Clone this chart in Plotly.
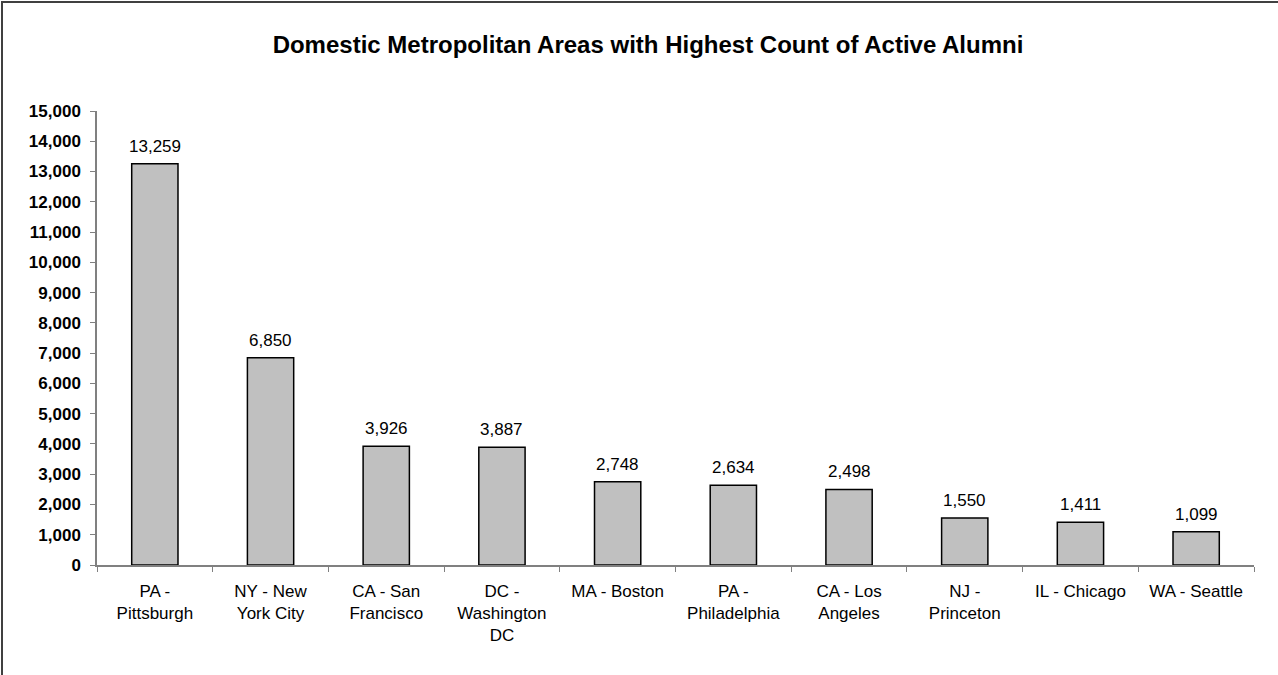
import plotly.graph_objects as go

categories = ["PA -<br>Pittsburgh", "NY - New<br>York City", "CA - San<br>Francisco",
              "DC -<br>Washington<br>DC", "MA - Boston", "PA -<br>Philadelphia",
              "CA - Los<br>Angeles", "NJ -<br>Princeton", "IL - Chicago", "WA - Seattle"]
values = [13259, 6850, 3926, 3887, 2748, 2634, 2498, 1550, 1411, 1099]
title_text = "Domestic Metropolitan Areas with Highest Count of Active Alumni"

FONT = "Liberation Sans, Arial, sans-serif"

fig = go.Figure(go.Bar(
    x=categories, y=values,
    marker=dict(color="#C0C0C0", line=dict(color="black", width=1.5)),
    width=0.4,
    cliponaxis=False,
))

for c, v in zip(categories, values):
    fig.add_annotation(x=c, y=v, text=f"{v:,}", showarrow=False,
                       xanchor="center", yanchor="bottom", yshift=6,
                       font=dict(family=FONT, size=17, color="black"))

fig.update_layout(
    width=1278, height=675,
    paper_bgcolor="white", plot_bgcolor="white",
    margin=dict(l=97, r=24, t=111, b=110),
    title=dict(text=f"<b>{title_text}</b>", x=648/1278, xanchor="center",
               y=1 - 45/675, yanchor="middle", xref="container", yref="container",
               font=dict(family=FONT, size=24, color="black")),
    showlegend=False,
    font=dict(family=FONT, color="black"),
    bargap=0.6,
)
fig.update_yaxes(range=[0, 15000], dtick=1000, tickformat=",d",
                 showgrid=False, zeroline=False, showline=True, linecolor="#808080",
                 linewidth=1.5, ticks="outside", ticklen=5, tickcolor="#808080",
                 tickfont=dict(family=FONT, size=17, color="black", weight="bold"),
                 ticklabelstandoff=6)
fig.update_xaxes(showgrid=False, showline=True, linecolor="#808080", linewidth=1.5,
                 ticks="outside", ticklen=5, tickcolor="#808080", tickson="boundaries",
                 tickangle=0, ticklabelstandoff=10,
                 tickfont=dict(family=FONT, size=17, color="black"))

fig.add_shape(type="rect", xref="paper", yref="paper",
              x0=(2 - 97) / 1157, x1=1.2, y0=-0.5, y1=1 + (111 - 2) / 454,
              line=dict(color="#404040", width=2), layer="above")

fig.write_html("out.html", config={"displayModeBar": False},
               post_script="document.body.style.margin='0';document.body.style.overflow='hidden';")
